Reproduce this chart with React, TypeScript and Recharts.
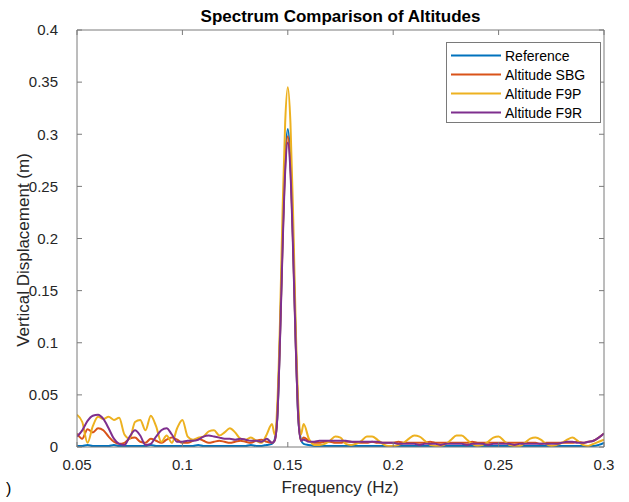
import React from 'react';
import { LineChart, Line, XAxis, YAxis } from 'recharts';

const freq = [
  0.05, 0.0525, 0.055, 0.0575, 0.06, 0.0625, 0.065, 0.0675, 0.07, 0.0725,
  0.075, 0.0775, 0.08, 0.0825, 0.085, 0.0875, 0.09, 0.0925, 0.095, 0.0975,
  0.1, 0.1025, 0.105, 0.1075, 0.11, 0.1125, 0.115, 0.1175, 0.12, 0.1225,
  0.125, 0.1275, 0.13, 0.1325, 0.135, 0.1375, 0.14, 0.1425,
  0.14375, 0.145, 0.14625, 0.1475, 0.14875, 0.15, 0.15125, 0.1525, 0.15375, 0.155, 0.15625,
  0.1575, 0.16, 0.1625, 0.165, 0.1675, 0.17, 0.1725, 0.175, 0.1775, 0.18,
  0.1825, 0.185, 0.1875, 0.19, 0.1925, 0.195, 0.1975, 0.2, 0.2025, 0.205,
  0.2075, 0.21, 0.2125, 0.215, 0.2175, 0.22, 0.2225, 0.225, 0.2275, 0.23,
  0.2325, 0.235, 0.2375, 0.24, 0.2425, 0.245, 0.2475, 0.25, 0.2525, 0.255,
  0.2575, 0.26, 0.2625, 0.265, 0.2675, 0.27, 0.2725, 0.275, 0.2775, 0.28,
  0.2825, 0.285, 0.2875, 0.29, 0.2925, 0.295, 0.2975, 0.3,
];

const reference = [
  0.001, 0.001, 0.002, 0.001, 0.001, 0.001, 0.001, 0.002, 0.001, 0.001,
  0.001, 0.001, 0.001, 0.001, 0.002, 0.001, 0.001, 0.001, 0.001, 0.001,
  0.001, 0.001, 0.001, 0.002, 0.001, 0.001, 0.001, 0.001, 0.001, 0.001,
  0.001, 0.001, 0.001, 0.002, 0.001, 0.001, 0.002, 0.003,
  0.007, 0.027, 0.103, 0.199, 0.275, 0.305, 0.275, 0.199, 0.103, 0.027, 0.007,
  0.003, 0.002, 0.001, 0.001, 0.001, 0.001, 0.001, 0.001, 0.001, 0.001,
  0.001, 0.001, 0.001, 0.001, 0.001, 0.001, 0.001, 0.001, 0.001, 0.001,
  0.001, 0.001, 0.001, 0.001, 0.001, 0.001, 0.001, 0.001, 0.001, 0.001,
  0.001, 0.001, 0.001, 0.001, 0.001, 0.001, 0.001, 0.001, 0.001, 0.001,
  0.001, 0.001, 0.001, 0.001, 0.001, 0.001, 0.001, 0.001, 0.001, 0.001,
  0.001, 0.001, 0.001, 0.001, 0.001, 0.001, 0.002, 0.004,
];

const altitudeSBG = [
  0.013, 0.008, 0.017, 0.014, 0.018, 0.016, 0.01, 0.005, 0.003, 0.004,
  0.008, 0.009, 0.005, 0.004, 0.008, 0.006, 0.004, 0.007, 0.009, 0.007,
  0.004, 0.004, 0.006, 0.008, 0.006, 0.004, 0.005, 0.006, 0.005, 0.004,
  0.005, 0.006, 0.005, 0.004, 0.006, 0.007, 0.005, 0.004,
  0.006, 0.029, 0.101, 0.194, 0.269, 0.298, 0.269, 0.194, 0.101, 0.029, 0.006,
  0.009, 0.006, 0.004, 0.004, 0.005, 0.005, 0.004, 0.004, 0.005, 0.005,
  0.004, 0.004, 0.004, 0.005, 0.004, 0.004, 0.004, 0.004, 0.005, 0.004,
  0.004, 0.004, 0.004, 0.004, 0.005, 0.004, 0.004, 0.004, 0.004, 0.004,
  0.004, 0.004, 0.005, 0.004, 0.004, 0.004, 0.004, 0.004, 0.004, 0.004,
  0.004, 0.004, 0.004, 0.004, 0.004, 0.003, 0.004, 0.004, 0.004, 0.004,
  0.004, 0.004, 0.005, 0.004, 0.005, 0.006, 0.009, 0.013,
];

const altitudeF9P = [
  0.031, 0.024, 0.004, 0.02, 0.029, 0.027, 0.029, 0.026, 0.028, 0.012,
  0.008, 0.024, 0.026, 0.016, 0.03, 0.02, 0.005, 0.011, 0.004, 0.018,
  0.026, 0.01, 0.007, 0.009, 0.01, 0.015, 0.016, 0.011, 0.014, 0.018,
  0.014, 0.008, 0.007, 0.009, 0.006, 0.004, 0.012, 0.022,
  0.012, 0.04, 0.117, 0.225, 0.311, 0.345, 0.311, 0.225, 0.117, 0.04, 0.012,
  0.022, 0.008, 0.002, 0.002, 0.003, 0.006, 0.01, 0.009, 0.003, 0.002,
  0.003, 0.006, 0.01, 0.01, 0.007, 0.003, 0.001, 0.001, 0.002, 0.004,
  0.008, 0.011, 0.01, 0.006, 0.002, 0.001, 0.001, 0.003, 0.007, 0.011,
  0.011, 0.007, 0.003, 0.001, 0.002, 0.005, 0.009, 0.01, 0.006, 0.002,
  0.001, 0.001, 0.004, 0.008, 0.009, 0.007, 0.003, 0.001, 0.002, 0.004,
  0.007, 0.009, 0.006, 0.002, 0.001, 0.003, 0.005, 0.007,
];

const altitudeF9R = [
  0.01, 0.016, 0.025, 0.03, 0.031, 0.027, 0.018, 0.008, 0.003, 0.002,
  0.01, 0.016, 0.011, 0.002, 0.003, 0.01, 0.016, 0.018, 0.012, 0.005,
  0.005, 0.006, 0.006, 0.007, 0.01, 0.011, 0.01, 0.009, 0.008, 0.008,
  0.007, 0.008, 0.007, 0.006, 0.006, 0.005, 0.008, 0.004,
  0.006, 0.028, 0.099, 0.19, 0.264, 0.292, 0.264, 0.19, 0.099, 0.028, 0.006,
  0.007, 0.005, 0.005, 0.006, 0.006, 0.006, 0.006, 0.006, 0.006, 0.005,
  0.005, 0.005, 0.005, 0.005, 0.005, 0.004, 0.004, 0.004, 0.003, 0.003,
  0.003, 0.003, 0.002, 0.003, 0.003, 0.003, 0.002, 0.003, 0.003, 0.003,
  0.003, 0.002, 0.003, 0.003, 0.003, 0.002, 0.003, 0.003, 0.003, 0.003,
  0.002, 0.003, 0.003, 0.003, 0.003, 0.003, 0.003, 0.003, 0.003, 0.004,
  0.005, 0.005, 0.004, 0.004, 0.005, 0.006, 0.009, 0.013,
];

const xTicks = [0.05, 0.1, 0.15, 0.2, 0.25, 0.3];
const yTicks = [0, 0.05, 0.1, 0.15, 0.2, 0.25, 0.3, 0.35, 0.4];

const seriesKeys = ['reference', 'sbg', 'f9p', 'f9r'];
const seriesNames = ['Reference', 'Altitude SBG', 'Altitude F9P', 'Altitude F9R'];
const seriesColors = ['#0072BD', '#D95319', '#EDB120', '#7E2F8E'];

const titleText = 'Spectrum Comparison of Altitudes';
const xLabelText = 'Frequency (Hz)';
const yLabelText = 'Vertical Displacement (m)';

const data = freq.map((f, i) => ({
  f,
  reference: reference[i],
  sbg: altitudeSBG[i],
  f9p: altitudeF9P[i],
  f9r: altitudeF9R[i],
}));

const FONT = "'Liberation Sans', Arial, Helvetica, sans-serif";
const AXIS_COLOR = '#7a7a7a';
const TEXT_COLOR = '#262626';

const LegendBox = () => (
  <div
    style={{
      position: 'absolute',
      left: 446,
      top: 42,
      border: `1px solid ${AXIS_COLOR}`,
      background: '#fff',
      width: 155,
      height: 81,
      boxSizing: 'border-box',
      paddingTop: 3,
      fontFamily: FONT,
      fontSize: 14,
      color: '#000',
    }}
  >
    {seriesNames.map((n, i) => (
      <div key={n} style={{ display: 'flex', alignItems: 'center', height: 19 }}>
        <svg width={58} height={19} style={{ display: 'block' }}>
          <line x1={4} y1={9.5} x2={54} y2={9.5} stroke={seriesColors[i]} strokeWidth={2} />
        </svg>
        <span style={{ whiteSpace: 'nowrap' }}>{n}</span>
      </div>
    ))}
  </div>
);

export default function App() {
  return (
    <div
      style={{
        position: 'absolute',
        left: 0,
        top: 0,
        width: 629,
        height: 502,
        background: '#fff',
        fontFamily: FONT,
        color: TEXT_COLOR,
      }}
    >
      <LineChart
        width={629}
        height={502}
        data={data}
        margin={{ top: 29, right: 24, bottom: 25, left: 17 }}
      >
        <XAxis
          dataKey="f"
          type="number"
          domain={[0.05, 0.3]}
          ticks={xTicks}
          allowDataOverflow
          height={30}
          tickSize={-5}
          tickMargin={17}
          stroke={AXIS_COLOR}
          tick={{ fill: TEXT_COLOR, fontSize: 15, fontFamily: FONT }}
        />
        <XAxis
          xAxisId="top"
          orientation="top"
          dataKey="f"
          type="number"
          domain={[0.05, 0.3]}
          ticks={xTicks}
          allowDataOverflow
          height={1}
          tickSize={-5}
          tickFormatter={() => ''}
          stroke={AXIS_COLOR}
        />
        <YAxis
          type="number"
          domain={[0, 0.4]}
          ticks={yTicks}
          allowDataOverflow
          width={60}
          tickSize={-5}
          tickMargin={24}
          stroke={AXIS_COLOR}
          tick={{ fill: TEXT_COLOR, fontSize: 15, fontFamily: FONT }}
        />
        <YAxis
          yAxisId="right"
          orientation="right"
          type="number"
          domain={[0, 0.4]}
          ticks={yTicks}
          allowDataOverflow
          width={1}
          tickSize={-5}
          tickFormatter={() => ''}
          stroke={AXIS_COLOR}
        />
        {seriesKeys.map((k, i) => (
          <Line
            key={k}
            dataKey={k}
            name={seriesNames[i]}
            type="monotone"
            stroke={seriesColors[i]}
            strokeWidth={2}
            dot={false}
            activeDot={false}
            isAnimationActive={false}
          />
        ))}
      </LineChart>
      <LegendBox />
      <div
        style={{
          position: 'absolute',
          left: 77,
          width: 527,
          top: 7,
          textAlign: 'center',
          fontWeight: 'bold',
          fontSize: 17,
          lineHeight: '20px',
          color: '#000',
        }}
      >
        {titleText}
      </div>
      <div
        style={{
          position: 'absolute',
          left: 340,
          top: 488,
          transform: 'translate(-50%, -50%)',
          fontSize: 17,
          whiteSpace: 'nowrap',
        }}
      >
        {xLabelText}
      </div>
      <div
        style={{
          position: 'absolute',
          left: 24,
          top: 250,
          transform: 'translate(-50%, -50%) rotate(-90deg)',
          fontSize: 17,
          whiteSpace: 'nowrap',
        }}
      >
        {yLabelText}
      </div>
      <div
        style={{ position: 'absolute', left: 6, top: 480, fontSize: 16, color: '#000' }}
      >
        )
      </div>
    </div>
  );
}
